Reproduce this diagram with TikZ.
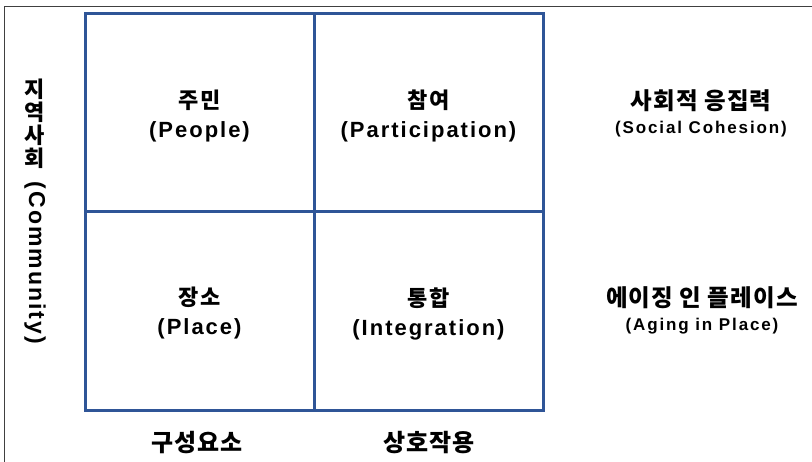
\documentclass[tikz,border=0pt]{standalone}
\usepackage{fontspec}
\newfontfamily\kr[LetterSpace=5]{Noto Sans CJK KR}
\newfontfamily\en[LetterSpace=9]{Liberation Sans}
\definecolor{gridblue}{HTML}{2F5597}
\definecolor{framegray}{HTML}{404040}
\begin{document}
\begin{tikzpicture}[x=1pt,y=-1pt,
  cell/.style={draw=gridblue, line width=3pt, minimum width=229pt, minimum height=198.5pt, inner sep=0pt},
  celltext/.style={align=center, inner sep=0pt, font=\bfseries\fontsize{22}{29}\selectfont},
  sidetext/.style={align=center, inner sep=0pt, font=\bfseries\fontsize{23.5}{24}\selectfont},
  axistext/.style={inner sep=0pt, font=\bfseries\kr\fontsize{24}{24}\selectfont},
  frameline/.style={draw=framegray, line width=1.5pt}]
\useasboundingbox (0,0) rectangle (812,461);
% outer frame (clipped)
\coordinate (fa) at (4.5,470);
\coordinate (fb) at (4.5,6.5);
\coordinate (fc) at (820,6.5);
\draw[frameline] (fa) -- (fb) -- (fc);
% grid cells
\node[cell] (c11) at (199.5,112.5) {};
\node[cell] (c12) at (428.5,112.5) {};
\node[cell] (c21) at (199.5,311) {};
\node[cell] (c22) at (428.5,311) {};
% cell texts
\node[celltext, yshift=-3.5pt] (t11) at (c11) {{\kr 주민}\\{\en\fontsize{22}{29}\selectfont (People)}};
\node[celltext, yshift=-3.5pt] (t12) at (c12) {{\kr 참여}\\{\en\fontsize{22}{29}\selectfont (Participation)}};
\node[celltext, yshift=-2.5pt] (t21) at (c21) {{\kr 장소}\\{\en\fontsize{22}{29}\selectfont (Place)}};
\node[celltext, yshift=-2.5pt] (t22) at (c22) {{\kr 통합}\\{\en\fontsize{22}{29}\selectfont (Integration)}};
% right side labels
\node[sidetext] (r1) at (701,113) {{\kr 사회적 응집력}\\{\en\fontsize{17}{24}\selectfont\addfontfeature{LetterSpace=11} (Social Cohesion)}};
\node[sidetext] (r2) at (702,310.5) {{\kr 에이징 인 플레이스}\\{\en\fontsize{17}{24}\selectfont\addfontfeature{LetterSpace=11} (Aging in Place)}};
% bottom labels
\node[axistext] (b1) at (197,443) {구성요소};
\node[axistext] (b2) at (429,443) {상호작용};
% left vertical label
\node[axistext, align=center, font=\bfseries\kr\fontsize{22}{23}\selectfont] (lk) at (35,124) {지\\역\\사\\회};
\node[inner sep=0pt, rotate=-90, font=\bfseries\en\fontsize{23}{23}\selectfont] (le) at (35,263) {(Community)};
\end{tikzpicture}
\end{document}
